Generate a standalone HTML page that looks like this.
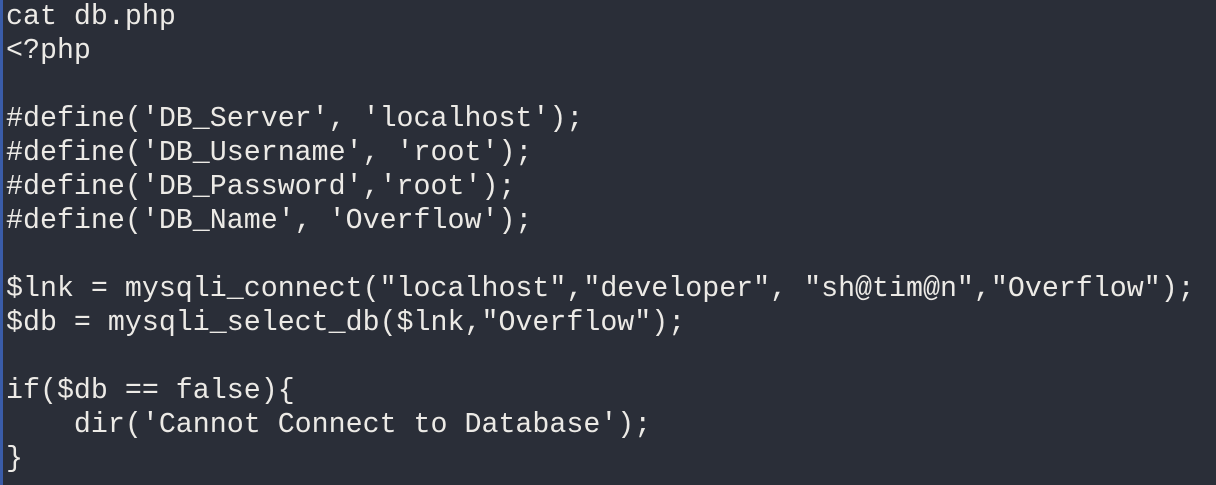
<!DOCTYPE html>
<html><head><style>
html,body{margin:0;padding:0;}
body{width:1216px;height:485px;background:#2a2e38;position:relative;overflow:hidden;}
.bar{position:absolute;left:0;top:0;width:3px;height:485px;background:#3a5ca8;}
pre{position:absolute;left:6px;top:0;margin:0;font-family:"Liberation Mono",monospace;font-size:28.3px;line-height:34px;color:#eceae6;letter-spacing:0;}
</style></head><body>
<div class="bar"></div>
<pre>cat db.php
&lt;?php

#define('DB_Server', 'localhost');
#define('DB_Username', 'root');
#define('DB_Password','root');
#define('DB_Name', 'Overflow');

$lnk = mysqli_connect("localhost","developer", "sh@tim@n","Overflow");
$db = mysqli_select_db($lnk,"Overflow");

if($db == false){
    dir('Cannot Connect to Database');
}</pre>
</body></html>
